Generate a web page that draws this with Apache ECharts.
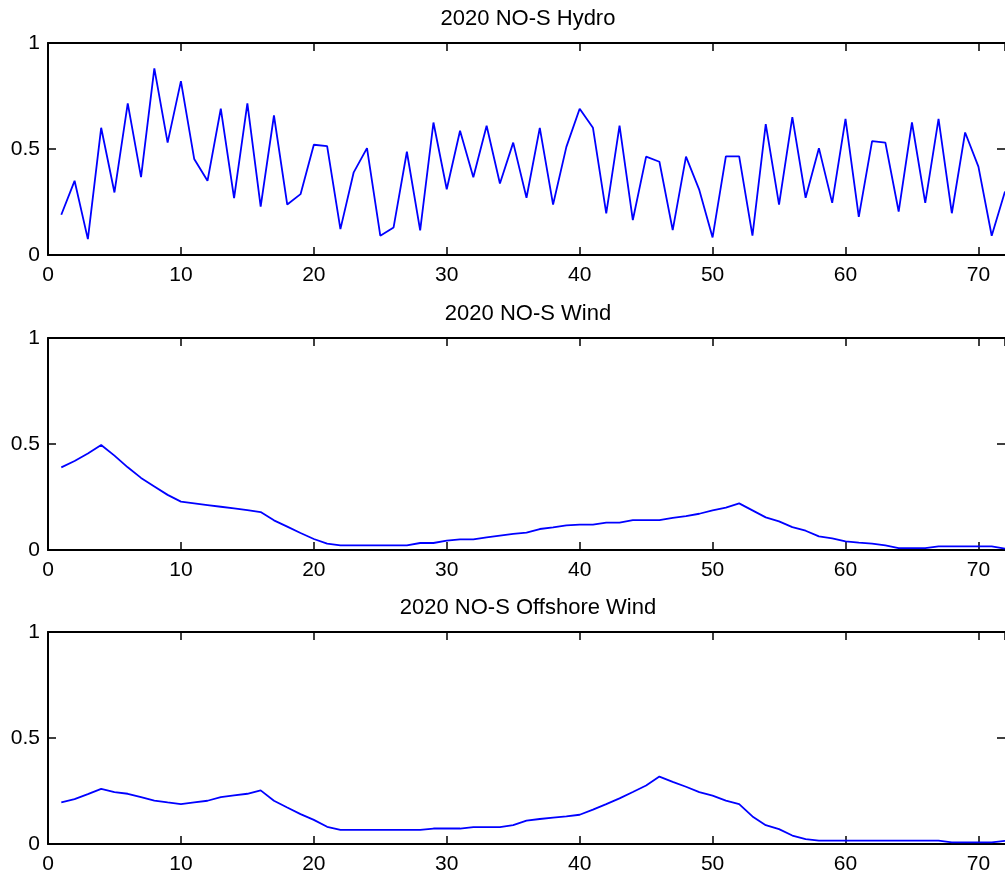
<!DOCTYPE html>
<html lang="en">
<head>
    <meta charset="UTF-8">
    <title>2020 NO-S</title>
    <style>
        html, body { margin: 0; padding: 0; background: #fff; }
        #chart { width: 1005px; height: 875px; }
    </style>
</head>
<body>
    <div id="chart"></div>

    <script src="https://cdn.jsdelivr.net/npm/echarts@6/dist/echarts.min.js"></script>
    <script>
        // values, hour 1..72
        var hydro = [0.19, 0.35, 0.075, 0.60, 0.295, 0.715, 0.367, 0.88, 0.53, 0.82,
            0.453, 0.35, 0.69, 0.268, 0.715, 0.228, 0.658, 0.238, 0.287, 0.52,
            0.514, 0.122, 0.39, 0.504, 0.091, 0.13, 0.487, 0.116, 0.625, 0.31,
            0.586, 0.367, 0.61, 0.337, 0.53, 0.27, 0.60, 0.238, 0.51, 0.69,
            0.60, 0.196, 0.61, 0.165, 0.464, 0.44, 0.117, 0.464, 0.307, 0.083,
            0.465, 0.465, 0.091, 0.617, 0.238, 0.65, 0.27, 0.504, 0.246, 0.642,
            0.18, 0.537, 0.53, 0.205, 0.625, 0.246, 0.642, 0.197, 0.578, 0.417,
            0.091, 0.30];
        var wind = [0.39, 0.42, 0.455, 0.495, 0.445, 0.39, 0.34, 0.30, 0.26, 0.228,
            0.22, 0.212, 0.204, 0.196, 0.188, 0.179, 0.14, 0.11, 0.08, 0.052,
            0.03, 0.022, 0.022, 0.022, 0.022, 0.022, 0.022, 0.033, 0.033, 0.044,
            0.05, 0.05, 0.06, 0.068, 0.076, 0.082, 0.099, 0.107, 0.116, 0.12,
            0.12, 0.129, 0.129, 0.141, 0.141, 0.141, 0.152, 0.16, 0.171, 0.187,
            0.20, 0.22, 0.187, 0.154, 0.135, 0.108, 0.091, 0.064, 0.055, 0.041,
            0.035, 0.03, 0.022, 0.009, 0.009, 0.009, 0.017, 0.017, 0.017, 0.017,
            0.017, 0.006];
        var offshore = [0.196, 0.212, 0.235, 0.26, 0.245, 0.237, 0.221, 0.205, 0.196, 0.188,
            0.196, 0.204, 0.221, 0.229, 0.237, 0.253, 0.204, 0.172, 0.141, 0.114,
            0.081, 0.067, 0.067, 0.067, 0.067, 0.067, 0.067, 0.067, 0.073, 0.073,
            0.073, 0.08, 0.08, 0.08, 0.089, 0.11, 0.118, 0.124, 0.13, 0.138,
            0.162, 0.188, 0.215, 0.245, 0.276, 0.318, 0.293, 0.27, 0.245, 0.228,
            0.205, 0.188, 0.13, 0.089, 0.07, 0.04, 0.023, 0.016, 0.016, 0.016,
            0.016, 0.016, 0.016, 0.016, 0.016, 0.016, 0.016, 0.008, 0.008, 0.008,
            0.008, 0.015];
        var titles = ['2020 NO-S Hydro', '2020 NO-S Wind', '2020 NO-S Offshore Wind'];
        var panels = [hydro, wind, offshore];

        var gridTops = [43, 338, 632];
        var font = 'Liberation Sans, Arial, sans-serif';

        function toPairs(values) {
            var out = [];
            for (var i = 0; i < values.length; i++) {
                out.push([i + 1, values[i]]);
            }
            return out;
        }

        var option = {
            animation: false,
            backgroundColor: '#fff',
            title: [],
            grid: [],
            xAxis: [],
            yAxis: [],
            series: []
        };

        var axisLine = { show: true, onZero: false, lineStyle: { color: '#000', width: 2 } };
        var tick = { show: true, inside: true, length: 8, lineStyle: { color: '#000', width: 1.5 } };

        panels.forEach(function(values, p) {
            option.title.push({
                text: titles[p],
                left: 528,
                top: gridTops[p] - 35,
                textAlign: 'center',
                padding: 0,
                textStyle: { fontFamily: font, fontSize: 22, fontWeight: 'normal', color: '#000' }
            });
            // plot box runs a little past the right edge of the picture
            option.grid.push({ left: 48, top: gridTops[p], width: 962, height: 212 });

            // bottom + top x axes, left + right y axes for the MATLAB box
            option.xAxis.push({
                type: 'value', gridIndex: p, position: 'bottom', min: 0, max: 72, interval: 10,
                axisLine: axisLine, axisTick: tick, splitLine: { show: false },
                axisLabel: { color: '#000', fontFamily: font, fontSize: 21, margin: 10, showMaxLabel: false }
            });
            option.xAxis.push({
                type: 'value', gridIndex: p, position: 'top', min: 0, max: 72, interval: 10,
                axisLine: axisLine, axisTick: tick, splitLine: { show: false },
                axisLabel: { show: false }
            });
            option.yAxis.push({
                type: 'value', gridIndex: p, position: 'left', min: 0, max: 1, interval: 0.5,
                axisLine: axisLine, axisTick: tick, splitLine: { show: false },
                axisLabel: { color: '#000', fontFamily: font, fontSize: 21, margin: 8 }
            });
            // right edge line is cut off in the picture, only its ticks show
            option.yAxis.push({
                type: 'value', gridIndex: p, position: 'right', min: 0, max: 1, interval: 0.5,
                axisLine: { show: false, onZero: false }, axisTick: tick, splitLine: { show: false },
                axisLabel: { show: false }
            });

            option.series.push({
                type: 'line',
                xAxisIndex: p * 2,
                yAxisIndex: p * 2,
                data: toPairs(values),
                showSymbol: false,
                clip: true,
                lineStyle: { color: '#0000ff', width: 1.8 }
            });
        });

        var chart = echarts.init(document.getElementById('chart'));
        chart.setOption(option);
    </script>
</body>
</html>
